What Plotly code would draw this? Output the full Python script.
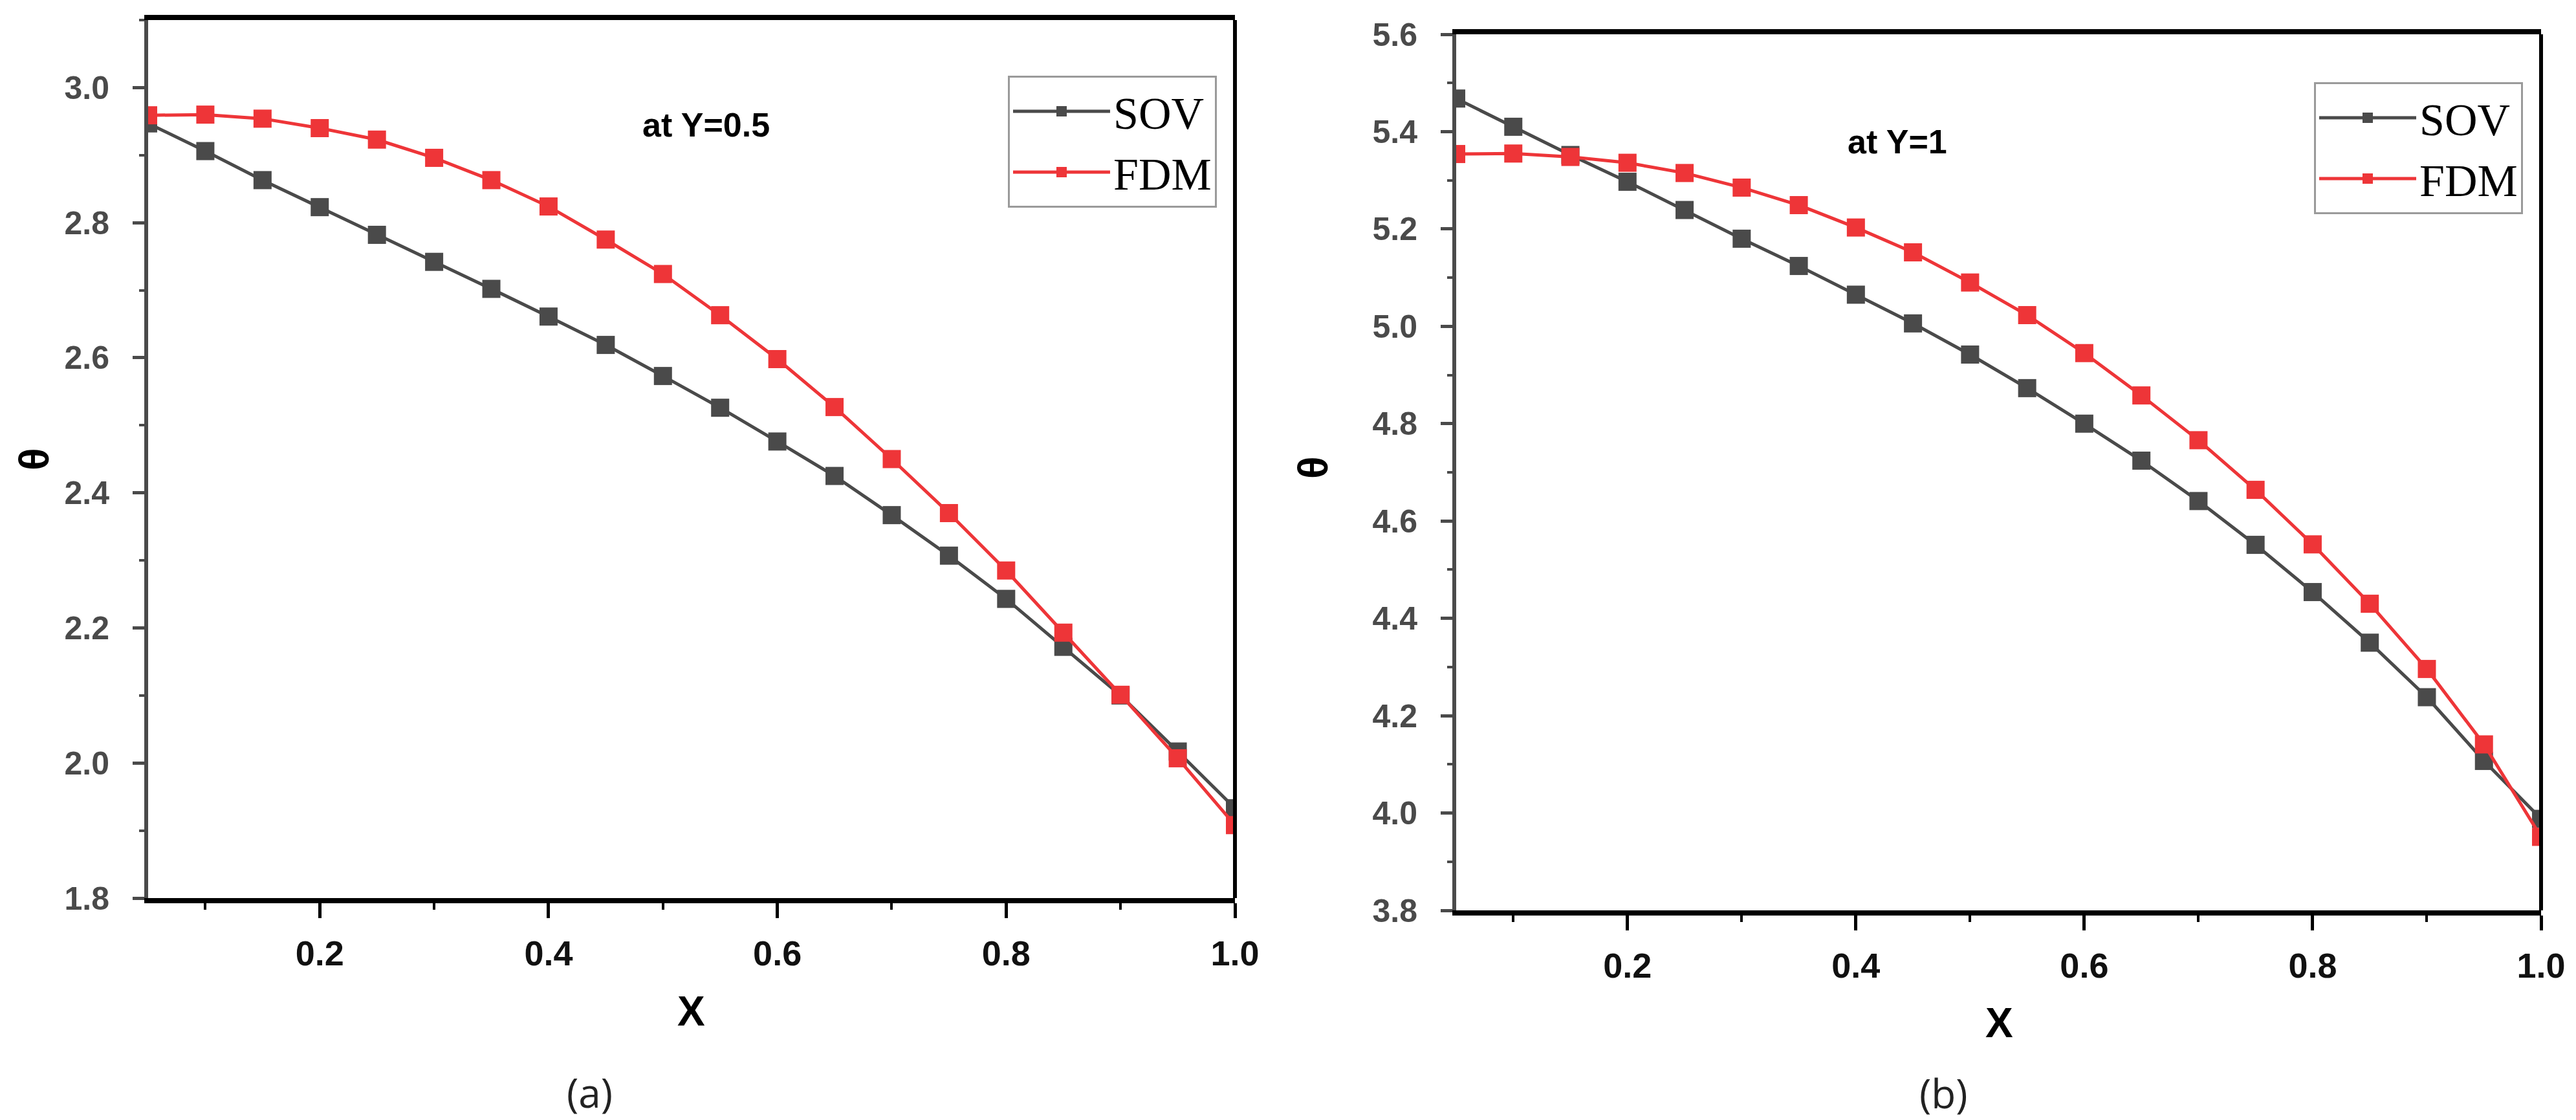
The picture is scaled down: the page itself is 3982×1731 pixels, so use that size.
import plotly.graph_objects as go

x_vals = [0.05, 0.1, 0.15, 0.2, 0.25, 0.3, 0.35, 0.4, 0.45, 0.5,
          0.55, 0.6, 0.65, 0.7, 0.75, 0.8, 0.85, 0.9, 0.95, 1.0]

# panel (a): at Y=0.5
sov_a = [2.947, 2.906, 2.863, 2.823, 2.782, 2.742, 2.702, 2.661, 2.619, 2.573,
         2.526, 2.476, 2.425, 2.367, 2.307, 2.243, 2.172, 2.100, 2.017, 1.933]
fdm_a = [2.959, 2.960, 2.954, 2.940, 2.923, 2.896, 2.863, 2.824, 2.775, 2.724,
         2.663, 2.598, 2.527, 2.450, 2.370, 2.285, 2.193, 2.101, 2.007, 1.908]

# panel (b): at Y=1
sov_b = [5.468, 5.410, 5.352, 5.297, 5.239, 5.180, 5.124, 5.065, 5.006, 4.942,
         4.873, 4.800, 4.724, 4.641, 4.551, 4.454, 4.350, 4.238, 4.107, 3.988]
fdm_b = [5.354, 5.355, 5.348, 5.336, 5.315, 5.285, 5.249, 5.203, 5.152, 5.090,
         5.023, 4.945, 4.858, 4.766, 4.664, 4.552, 4.430, 4.296, 4.141, 3.951]

W, H = 3982, 1731
GREY = "#4a4a4a"
RED = "#ee3538"
TICK_FONT = "Liberation Sans"

fig = go.Figure()

for xa, ya, leg, sov, fdm in [("x", "y", "legend", sov_a, fdm_a),
                              ("x2", "y2", "legend2", sov_b, fdm_b)]:
    fig.add_trace(go.Scatter(x=x_vals, y=sov, name="SOV", mode="lines+markers",
                             xaxis=xa, yaxis=ya, legend=leg,
                             line=dict(color=GREY, width=5),
                             marker=dict(symbol="square", size=28, color=GREY)))
    fig.add_trace(go.Scatter(x=x_vals, y=fdm, name="FDM", mode="lines+markers",
                             xaxis=xa, yaxis=ya, legend=leg,
                             line=dict(color=RED, width=5),
                             marker=dict(symbol="square", size=28, color=RED)))

xaxis_style = dict(
    range=[0.05, 1.0], dtick=0.2, tick0=0, tickformat=".1f",
    showgrid=False, zeroline=False, automargin=False,
    showline=True, linecolor="black", linewidth=8, mirror=True,
    ticks="outside", ticklen=23, tickwidth=5, tickcolor="black",
    minor=dict(dtick=0.1, ticks="outside", ticklen=10, tickwidth=4, tickcolor="black"),
    tickfont=dict(family=TICK_FONT, size=54, color="#111111", weight="bold"),
    ticklabelstandoff=8,
)
yaxis_style = dict(
    dtick=0.2, tick0=0, tickformat=".1f",
    showgrid=False, zeroline=False, automargin=False,
    showline=True, linecolor=GREY, linewidth=6, mirror=False,
    ticks="outside", ticklen=18, tickwidth=5, tickcolor=GREY,
    minor=dict(dtick=0.1, ticks="outside", ticklen=8, tickwidth=4, tickcolor=GREY),
    tickfont=dict(family=TICK_FONT, size=50, color=GREY, weight="bold"),
    ticklabelstandoff=26,
)

legend_style = dict(
    xanchor="right", yanchor="top",
    bgcolor="white", bordercolor="#9a9a9a", borderwidth=3,
    font=dict(family="Liberation Serif", size=70, color="black"),
    itemwidth=150, tracegroupgap=0,
)

fig.update_layout(
    width=W, height=H,
    margin=dict(l=0, r=0, t=0, b=0, autoexpand=False),
    paper_bgcolor="white", plot_bgcolor="white",
    xaxis=dict(xaxis_style, domain=[221 / W, 1901 / W], anchor="y"),
    yaxis=dict(yaxis_style, domain=[1 - 1380 / H, 1 - 23 / H], range=[1.8, 3.1], anchor="x"),
    xaxis2=dict(xaxis_style, domain=[2243 / W, 3920 / W], anchor="y2"),
    yaxis2=dict(yaxis_style, domain=[1 - 1399 / H, 1 - 45 / H], range=[3.8, 5.6], anchor="x2"),
    legend=dict(legend_style, x=1873 / W, y=1 - 109 / H),
    legend2=dict(legend_style, x=3892 / W, y=1 - 119 / H),
    showlegend=True,
)

# right side of each frame is black
for xd, yd in [("x domain", "y domain"), ("x2 domain", "y2 domain")]:
    fig.add_shape(type="line", xref=xd, yref=yd, x0=1, x1=1, y0=0, y1=1,
                  line=dict(color="black", width=6))

labels = [
    ("at Y=0.5", 1083, 185, 52, "bold", 0, "Liberation Sans", "black"),
    ("at Y=1", 2925, 211, 52, "bold", 0, "Liberation Sans", "black"),
    ("X", 1060, 1555, 64, "bold", 0, "Liberation Sans", "black"),
    ("X", 3082, 1573, 64, "bold", 0, "Liberation Sans", "black"),
    ("θ", 45, 702, 64, "bold", -90, "Liberation Sans", "black"),
    ("θ", 2022, 715, 64, "bold", -90, "Liberation Sans", "black"),
    ("(a)", 903, 1680, 62, "normal", 0, "Open Sans", "#222222"),
    ("(b)", 2996, 1681, 62, "normal", 0, "Open Sans", "#222222"),
]
for text, px, py, size, weight, angle, family, color in labels:
    fig.add_annotation(text=text, x=px / W, y=1 - py / H, xref="paper", yref="paper",
                       xanchor="center", yanchor="middle", showarrow=False, textangle=angle,
                       font=dict(family=family, size=size, color=color, weight=weight))

fig.write_html("out.html")
